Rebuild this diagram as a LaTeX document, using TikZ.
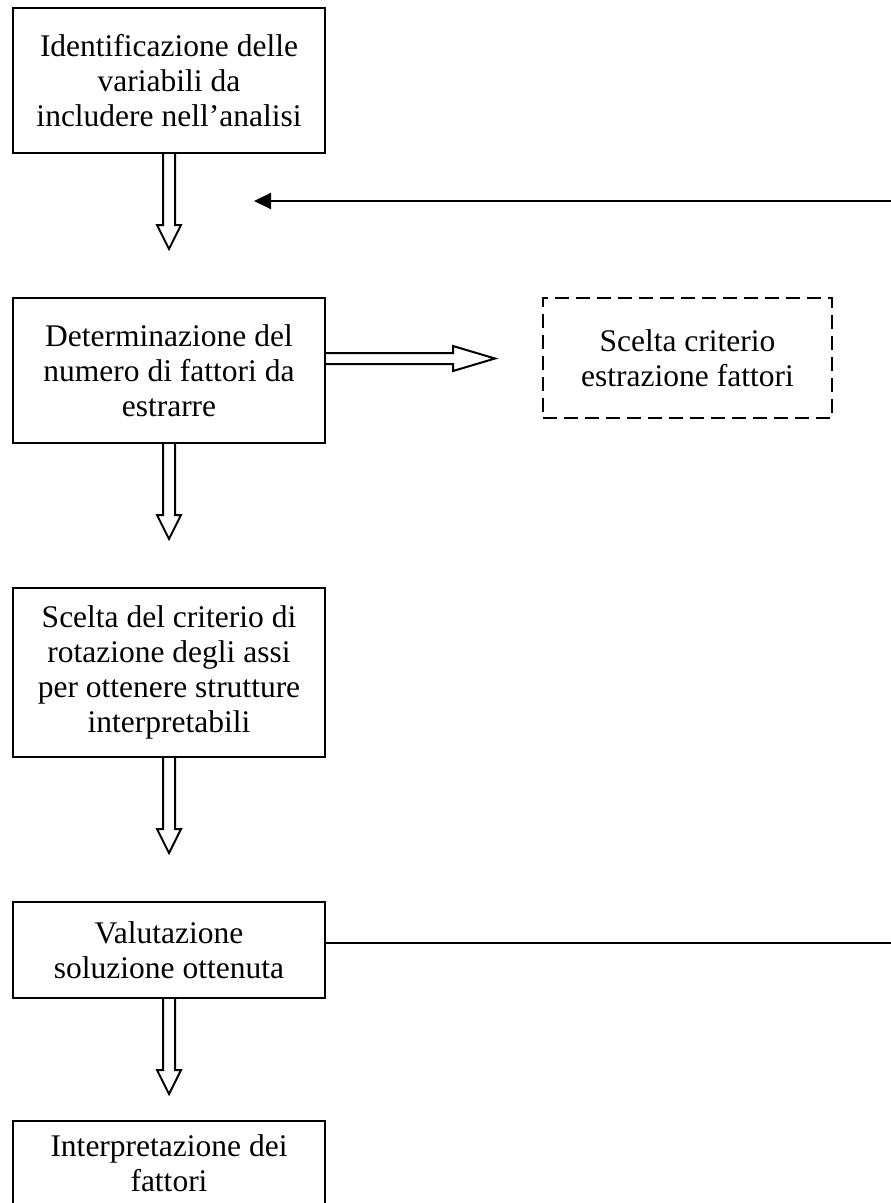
\documentclass[tikz,border=0pt]{standalone}
\usepackage{fontspec}
\setmainfont{Liberation Serif}
\usetikzlibrary{arrows.meta, positioning}
\tikzset{
    flow/.style={font=\fontsize{31.5}{35}\selectfont, line width=2pt},
    flow box/.style={draw, align=center, inner sep=2pt,
        minimum width=312pt},
    flow dashed box/.style={flow box, dash pattern=on 14pt off 7pt,
        minimum width=289pt, minimum height=120pt},
    block arrow/.style={draw, fill=white, line join=miter},
    feedback line/.style={line width=2pt},
    feedback arrow/.style={feedback line, -{Triangle[length=17pt, width=16pt]}},
}
% hollow arrow pointing down from the bottom of a box
\newcommand{\blockdown}[1]{%
  \draw[block arrow] ([shift={(-6,0)}]#1.south) -- ++(0,71) -- ++(-6,0)
    -- ++(12,24) -- ++(12,-24) -- ++(-6,0) -- ++(0,-71);}

\begin{document}
\begin{tikzpicture}[flow, x=1pt, y=-1pt]
  \useasboundingbox (0,0) rectangle (891,1203);
  \node[flow box, minimum height=145pt] (ident) at (169,80.5)
    {Identificazione delle\\ variabili da\\ includere nell'analisi};
  \node[flow box, minimum height=145pt, below=143pt of ident] (numfatt)
    {Determinazione del\\ numero di fattori da\\ estrarre};
  \node[flow box, minimum height=169pt, below=143pt of numfatt] (rotaz)
    {Scelta del criterio di\\ rotazione degli assi\\ per ottenere strutture\\ interpretabili};
  \node[flow box, minimum height=96pt, below=143pt of rotaz] (valut)
    {Valutazione\\ soluzione ottenuta};
  \node[flow box, minimum height=85pt, below=121pt of valut] (interp)
    {Interpretazione dei\\ fattori};
  \node[flow dashed box, anchor=north west] (estraz)
    at ([xshift=216pt]numfatt.north east) {Scelta criterio\\ estrazione fattori};

  % block arrows between the steps
  \blockdown{ident}
  \blockdown{numfatt}
  \blockdown{rotaz}
  \blockdown{valut}
  \draw[block arrow] ([shift={(0,-17.5)}]numfatt.east) -- ++(127,0) -- ++(0,-7)
    -- ++(42,12.5) -- ++(-42,12.5) -- ++(0,-7) -- ++(-127,0);

  % feedback from the evaluation back to the top
  \coordinate (fbout) at (891,943);
  \coordinate (fbin) at (891,201);
  \coordinate (fbtip) at (254,201);
  \draw[feedback line] (valut.east |- fbout) -- (fbout);
  \draw[feedback arrow] (fbin) -- (fbtip);
\end{tikzpicture}
\end{document}
